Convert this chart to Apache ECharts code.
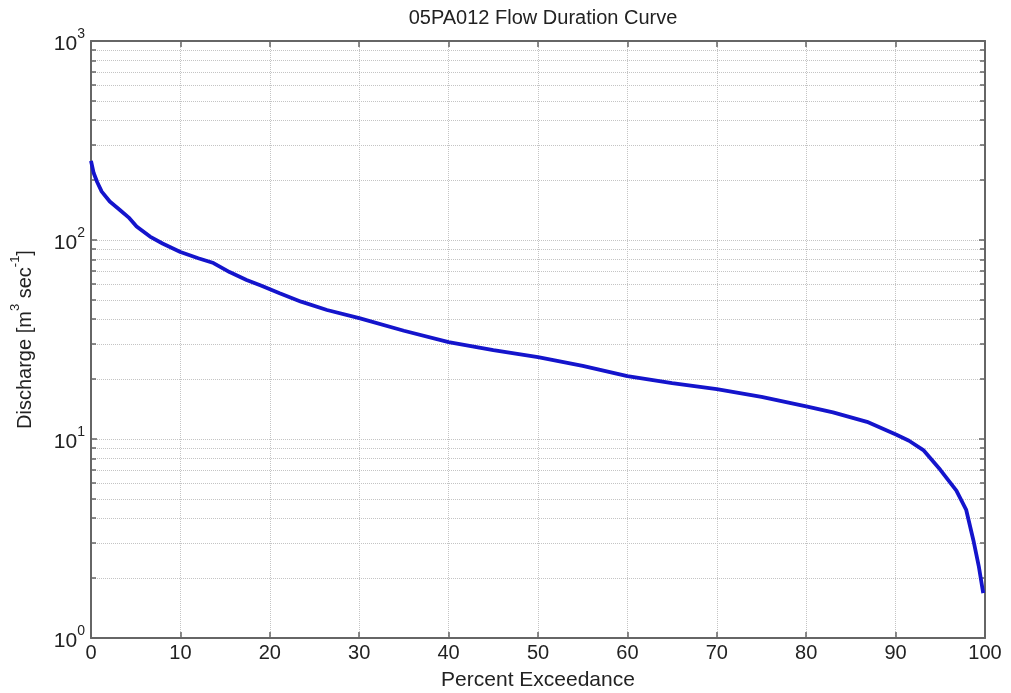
<!DOCTYPE html>
<html>
<head>
<meta charset="utf-8">
<script src="https://cdn.jsdelivr.net/npm/echarts@6/dist/echarts.min.js"></script>
<style>
    html, body { margin: 0; padding: 0; background: #fff; }
    #main { width: 1011px; height: 693px; }
</style>
</head>
<body>
<div id="main"></div>
<script>
    // percent exceedance / discharge
    var percent = [0, 0.3, 0.7, 1.2, 2.1, 3.2, 4.2, 5.1, 6.6, 8, 10, 12, 13.7, 15.5, 17.4, 19, 21.1, 23.5, 26.4, 30,
        35, 40, 45, 50, 55, 60, 65, 70, 75, 80, 83, 86.8, 90.1, 91.5, 93.1, 95, 96.8, 97.9, 98.7, 99.3, 99.8];
    var discharge = [250, 217, 195, 175, 156, 142, 130, 117, 104, 96, 87, 81, 76.6, 69, 63, 59, 54, 49, 44.5, 40.5,
        35, 30.7, 28, 25.8, 23.3, 20.7, 19.1, 17.8, 16.3, 14.6, 13.6, 12.2, 10.5, 9.8, 8.8, 7.0, 5.5, 4.4, 3.1, 2.3, 1.68];
    var xTicks = [0, 10, 20, 30, 40, 50, 60, 70, 80, 90, 100];
    var yDecades = [1, 10, 100, 1000];

    var font = 'Liberation Sans, Arial, sans-serif';
    var boxColor = '#666';
    var gridColor = '#c4c4c4';

    var points = [];
    for (var i = 0; i < percent.length; i++) {
        points.push([percent[i], discharge[i]]);
    }

    var myChart = echarts.init(document.getElementById('main'));

    var boxLine = { show: true, onZero: false, lineStyle: { color: boxColor, width: 2 } };
    var majorTick = { show: true, inside: true, length: 6, lineStyle: { color: boxColor, width: 1.5 } };
    var smallTick = { show: true, splitNumber: 9, length: 5, lineStyle: { color: boxColor, width: 1.5 } };

    myChart.setOption({
        animation: false,
        backgroundColor: '#fff',
        title: {
            text: '05PA012 Flow Duration Curve',
            left: 538,
            textAlign: 'center',
            top: 3,
            textStyle: { fontFamily: font, fontSize: 20, fontWeight: 'normal', color: '#222' }
        },
        grid: { left: 91, right: 26, top: 41, bottom: 55, outerBoundsMode: 'none' },
        xAxis: [
            {
                type: 'value',
                position: 'bottom',
                min: xTicks[0],
                max: xTicks[xTicks.length - 1],
                interval: 10,
                name: 'Percent Exceedance',
                nameLocation: 'middle',
                nameGap: 32,
                nameTextStyle: { fontFamily: font, fontSize: 21, color: '#222' },
                axisLine: boxLine,
                axisTick: majorTick,
                axisLabel: { fontFamily: font, fontSize: 20, color: '#222', margin: 5 },
                splitLine: { show: true, lineStyle: { color: gridColor, type: 'dotted', width: 1 } }
            },
            {
                type: 'value',
                position: 'top',
                min: xTicks[0],
                max: xTicks[xTicks.length - 1],
                interval: 10,
                axisLine: boxLine,
                axisTick: majorTick,
                axisLabel: { show: false },
                splitLine: { show: false }
            }
        ],
        yAxis: [
            {
                type: 'log',
                logBase: 10,
                position: 'left',
                min: yDecades[0],
                max: yDecades[yDecades.length - 1],
                name: '{a|Discharge [m}{s|3}{a| sec}{s|-1}{a|]}',
                nameLocation: 'middle',
                nameGap: 56,
                nameRotate: 90,
                nameTextStyle: {
                    rich: {
                        a: { fontFamily: font, fontSize: 20, color: '#222', lineHeight: 26, verticalAlign: 'bottom' },
                        s: { fontFamily: font, fontSize: 13, color: '#222', lineHeight: 26, verticalAlign: 'top' }
                    }
                },
                axisLine: boxLine,
                axisTick: majorTick,
                minorTick: smallTick,
                axisLabel: {
                    margin: 6,
                    formatter: function (val) {
                        return '{b|10}{s|' + Math.round(Math.log10(val)) + '}';
                    },
                    rich: {
                        b: { fontFamily: font, fontSize: 21, color: '#222', lineHeight: 28, verticalAlign: 'bottom' },
                        s: { fontFamily: font, fontSize: 14, color: '#222', lineHeight: 28, verticalAlign: 'top' }
                    }
                },
                splitLine: { show: true, lineStyle: { color: gridColor, type: 'dotted', width: 1 } },
                minorSplitLine: { show: true, lineStyle: { color: gridColor, type: 'dotted', width: 1 } }
            },
            {
                type: 'log',
                logBase: 10,
                position: 'right',
                min: yDecades[0],
                max: yDecades[yDecades.length - 1],
                axisLine: boxLine,
                axisTick: majorTick,
                minorTick: smallTick,
                axisLabel: { show: false },
                splitLine: { show: false }
            }
        ],
        series: [
            {
                name: 'Flow',
                type: 'line',
                data: points,
                showSymbol: false,
                smooth: false,
                lineStyle: { color: '#1414cc', width: 3.8 }
            },
            {
                // invisible copy so the top/right box axes carry ticks
                name: 'box',
                type: 'line',
                xAxisIndex: 1,
                yAxisIndex: 1,
                data: points,
                showSymbol: false,
                silent: true,
                lineStyle: { opacity: 0 }
            }
        ]
    });
</script>
</body>
</html>
